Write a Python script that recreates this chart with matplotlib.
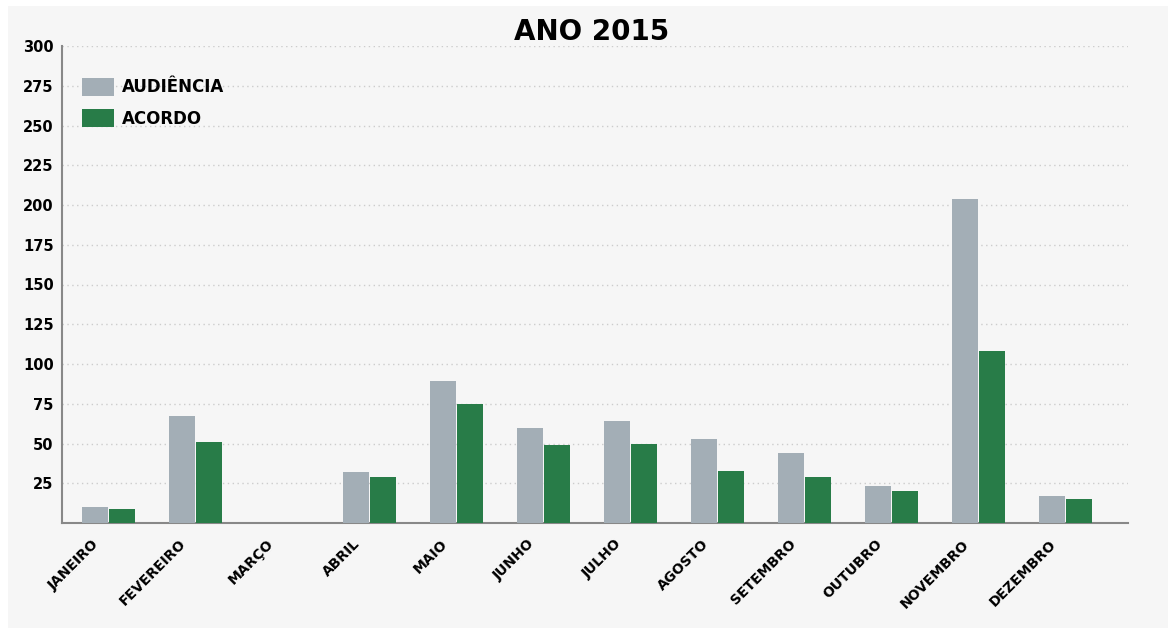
import matplotlib.pyplot as plt
import matplotlib.transforms as mtransforms
import numpy as np
from matplotlib.patches import Rectangle

meses = ['JANEIRO', 'FEVEREIRO', 'MARÇO', 'ABRIL', 'MAIO', 'JUNHO', 'JULHO',
         'AGOSTO', 'SETEMBRO', 'OUTUBRO', 'NOVEMBRO', 'DEZEMBRO']
audiencia = [10, 67, 0, 32, 89, 60, 64, 53, 44, 23, 204, 17]
acordo = [9, 51, 0, 29, 75, 49, 50, 33, 29, 20, 108, 15]
yticks = [25, 50, 75, 100, 125, 150, 175, 200, 225, 250, 275, 300]

cinza = '#a3aeb6'
verde = '#287c48'

fig = plt.figure(figsize=(11.76, 6.34), dpi=100, facecolor='white')
# painel de fundo cinza claro
fig.add_artist(Rectangle((8/1176, 6/634), 1160/1176, 622/634, transform=fig.transFigure,
                         facecolor='#f6f6f6', edgecolor='none', zorder=-10))
ax = fig.add_axes([62/1176, 1 - 523/634, 1066/1176, 477/634])
ax.set_facecolor('none')

x = np.arange(len(meses))
w = 0.3
ax.bar(x - w/2 - 0.005, audiencia, w, color=cinza, label='AUDIÊNCIA', zorder=3)
ax.bar(x + w/2 + 0.005, acordo, w, color=verde, label='ACORDO', zorder=3)

ax.set_xlim(-0.53, 11.72)
ax.set_ylim(0, 300)
ax.set_yticks(yticks)
ax.set_yticklabels([str(v) for v in yticks], fontsize=10.5, fontweight='heavy')
ax.set_xticks(x)
ax.set_xticklabels(meses, rotation=45, ha='right', va='top', rotation_mode='anchor',
                   fontsize=10, fontweight='heavy')
ax.tick_params(length=0, pad=6)
ax.tick_params(axis='x', pad=10)
# desloca os rotulos do eixo x um pouco para a esquerda
desloc = mtransforms.ScaledTranslation(-16/100, 0, fig.dpi_scale_trans)
for lbl in ax.get_xticklabels():
    lbl.set_transform(lbl.get_transform() + desloc)

ax.grid(axis='y', linestyle=(0, (1, 2.5)), color='#cccccc', linewidth=1, zorder=0)
for s in ['top', 'right']:
    ax.spines[s].set_visible(False)
ax.spines['left'].set_color('#888888')
ax.spines['bottom'].set_color('#888888')
ax.spines['left'].set_linewidth(1.5)
ax.spines['bottom'].set_linewidth(1.5)

leg = ax.legend(loc='upper left', bbox_to_anchor=(0.005, 0.965), frameon=False,
                prop={'weight': 'heavy', 'size': 12}, handlelength=1.9, handleheight=1.3,
                labelspacing=0.75, handletextpad=0.5)

fig.text(0.503, 0.95, 'ANO 2015', ha='center', va='center', fontsize=20, fontweight='heavy')

fig.savefig('out.png', dpi=100, facecolor=fig.get_facecolor())
